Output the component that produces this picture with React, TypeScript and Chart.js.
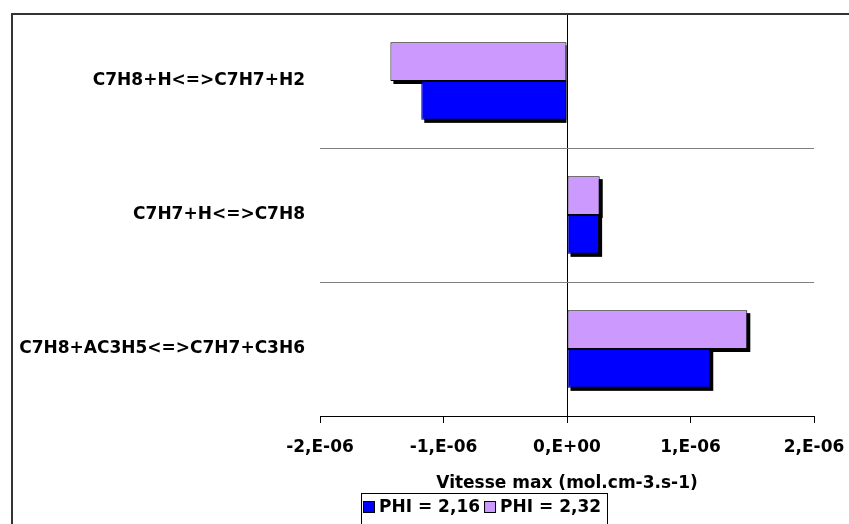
import React, { useEffect, useRef } from 'react';
import { Chart, registerables } from 'chart.js';

Chart.register(...registerables);

// ---- data ----
const categories = ['C7H8+H<=>C7H7+H2', 'C7H7+H<=>C7H8', 'C7H8+AC3H5<=>C7H7+C3H6'];
const seriesLabels = ['PHI = 2,16', 'PHI = 2,32'];
const phi216 = [-1.18e-6, 0.26e-6, 1.16e-6];
const phi232 = [-1.43e-6, 0.265e-6, 1.46e-6];
const xMin = -2e-6;
const xMax = 2e-6;
const xStep = 1e-6;
const xTitle = 'Vitesse max (mol.cm-3.s-1)';

const FONT_FAMILY = "'DejaVu Sans', 'Liberation Sans', Arial, sans-serif";
const COLOR_216 = '#0000FF';
const COLOR_232 = '#CC99FF';

function formatSci(v: number): string {
  if (Math.abs(v) < 1e-15) return '0,E+00';
  const exp = Math.floor(Math.log10(Math.abs(v)) + 1e-6);
  const mant = Math.round(v / Math.pow(10, exp));
  const sign = exp < 0 ? '-' : '+';
  const e = String(Math.abs(exp)).padStart(2, '0');
  return `${mant},E${sign}${e}`;
}

const shadowPlugin = {
  id: 'barShadow',
  beforeDatasetsDraw(chart: any) {
    const ctx = chart.ctx;
    ctx.save();
    ctx.fillStyle = '#000000';
    chart.data.datasets.forEach((_ds: any, i: number) => {
      const meta = chart.getDatasetMeta(i);
      meta.data.forEach((el: any) => {
        const { x, y, base, height } = el.getProps(['x', 'y', 'base', 'height'], true);
        const left = Math.min(x, base);
        let w = Math.abs(x - base);
        if (x < base) w = Math.max(0, w - 3);
        ctx.fillRect(left + 3, y - height / 2 + 3, w, height);
      });
    });
    ctx.restore();
  },
};

const frameLegendPlugin = {
  id: 'frameLegend',
  afterDraw(chart: any) {
    const ctx = chart.ctx;
    ctx.save();
    // outer chart frame
    ctx.strokeStyle = '#333333';
    ctx.lineWidth = 2;
    ctx.beginPath();
    ctx.moveTo(12, 530);
    ctx.lineTo(12, 14);
    ctx.lineTo(860, 14);
    ctx.stroke();

    // legend box
    const bx = 361;
    const by = 493;
    ctx.strokeStyle = '#000000';
    ctx.lineWidth = 1;
    ctx.strokeRect(bx + 0.5, by + 0.5, 246, 40);
    ctx.font = `bold 17px ${FONT_FAMILY}`;
    ctx.textBaseline = 'middle';
    ctx.textAlign = 'left';
    const order = [1, 0];
    let cx = bx + 2;
    const cy = 507;
    order.forEach((di) => {
      const ds = chart.data.datasets[di];
      ctx.fillStyle = ds.backgroundColor;
      ctx.fillRect(cx + 0.5, cy - 6 + 0.5, 11, 11);
      ctx.strokeStyle = '#000000';
      ctx.strokeRect(cx + 0.5, cy - 6 + 0.5, 11, 11);
      ctx.fillStyle = '#000000';
      const tx = cx + 16;
      ctx.fillText(ds.label, tx, cy + 1);
      cx = tx + ctx.measureText(ds.label).width + 4;
    });
    ctx.restore();
  },
};

export default function App() {
  const canvasRef = useRef<HTMLCanvasElement | null>(null);

  useEffect(() => {
    if (!canvasRef.current) return;
    const chart = new Chart(canvasRef.current, {
      type: 'bar',
      data: {
        labels: categories,
        datasets: [
          {
            label: seriesLabels[1],
            data: phi232,
            backgroundColor: COLOR_232,
            borderColor: '#000000',
            borderWidth: 1,
            borderSkipped: false,
          },
          {
            label: seriesLabels[0],
            data: phi216,
            backgroundColor: COLOR_216,
            borderColor: '#000000',
            borderWidth: 1,
            borderSkipped: false,
          },
        ],
      },
      options: {
        indexAxis: 'y',
        responsive: false,
        animation: false,
        devicePixelRatio: 1,
        layout: { padding: { top: 14, right: 35, bottom: 30, left: 0 } },
        datasets: {
          bar: { barPercentage: 1, categoryPercentage: 0.58 },
        },
        plugins: {
          legend: { display: false },
          tooltip: { enabled: false },
        },
        scales: {
          x: {
            type: 'linear',
            min: xMin,
            max: xMax,
            ticks: {
              stepSize: xStep,
              color: '#000000',
              font: { family: FONT_FAMILY, size: 17, weight: 'bold' },
              padding: 14,
              maxRotation: 0,
              callback: (v: any) => formatSci(Number(v)),
            },
            grid: {
              color: (c: any) => (c.tick && Math.abs(c.tick.value) < 1e-15 ? '#000000' : 'rgba(0,0,0,0)'),
              tickColor: '#000000',
              tickLength: 7,
              drawTicks: true,
            },
            border: { display: true, color: '#000000', width: 1 },
            title: {
              display: true,
              text: xTitle,
              color: '#000000',
              font: { family: FONT_FAMILY, size: 17, weight: 'bold' },
              padding: { top: 0, bottom: 0 },
            },
            afterFit: (scale: any) => {
              scale.height = 78;
              scale.paddingLeft = 0;
              scale.paddingRight = 0;
              scale.paddingTop = 0;
              scale.paddingBottom = 0;
            },
          },
          y: {
            type: 'category',
            ticks: {
              color: '#000000',
              font: { family: FONT_FAMILY, size: 17, weight: 'bold' },
              padding: 15,
            },
            grid: {
              color: '#808080',
              drawTicks: false,
              tickLength: 0,
              offset: true,
            },
            border: { display: false },
            afterFit: (scale: any) => {
              scale.width = 320;
              scale.paddingLeft = 0;
              scale.paddingRight = 0;
              scale.paddingTop = 0;
              scale.paddingBottom = 0;
            },
          },
        },
      },
      plugins: [shadowPlugin, frameLegendPlugin],
    } as any);
    return () => chart.destroy();
  }, []);

  return (
    <div style={{ position: 'absolute', left: 0, top: 0, width: 849, height: 524, background: '#ffffff' }}>
      <canvas ref={canvasRef} width={849} height={524} style={{ display: 'block' }} />
    </div>
  );
}
